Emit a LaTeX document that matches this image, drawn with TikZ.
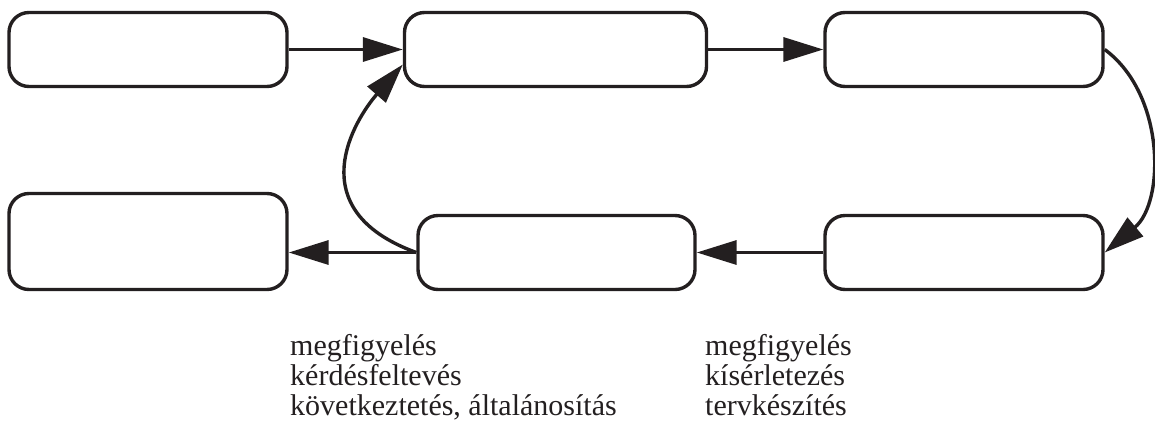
\documentclass[tikz,border=0pt]{standalone}
\usepackage{fontspec}
\setmainfont{Liberation Serif}
\usetikzlibrary{arrows.meta}
\definecolor{ink}{HTML}{231F20}
\begin{document}
\begin{tikzpicture}[x=1pt,y=-1pt,
  box/.style={draw=ink,line width=3.4pt,rounded corners=20pt,minimum width=278pt,minimum height=74pt,inner sep=0pt},
  arr/.style={draw=ink,line width=3.4pt,-{Triangle[length=40pt,width=24pt]}},
  lbl/.style={anchor=base west,inner sep=0pt,text=ink,font=\fontsize{30}{30}\selectfont}]
\useasboundingbox (0,0) rectangle (1155,437);
\node[box] (b1) at (148,49.5) {};
\node[box,minimum width=302pt] (b2) at (555.5,49.5) {};
\node[box] (b3) at (964,49.5) {};
\node[box,minimum height=96pt] (b4) at (148,241.5) {};
\node[box,minimum width=277pt] (b5) at (556.5,252.5) {};
\node[box] (b6) at (964,252.5) {};
\coordinate (b2in) at ([yshift=-15pt]b2.west);
\draw[arr] (b1.east) -- (b2.west);
\draw[arr] (b2.east) -- (b3.west);
\draw[arr] (b3.east) .. controls +(61,45) and +(60,-50) .. (b6.east);
\draw[arr] (b6.west) -- (b5.east);
\draw[arr] (b5.west) -- (b5.west -| b4.east);
\draw[arr] (b5.west) .. controls +(-118,-43) and +(-48,55) .. (b2in);
\node[lbl] (t1) at (290,355) {megfigyelés};
\node[lbl] (t2) at (290,385) {kérdésfeltevés};
\node[lbl] (t3) at (290,415) {következtetés, általánosítás};
\node[lbl] (t4) at (705,355) {megfigyelés};
\node[lbl] (t5) at (705,385) {kísérletezés};
\node[lbl] (t6) at (705,415) {tervkészítés};
\end{tikzpicture}
\end{document}
